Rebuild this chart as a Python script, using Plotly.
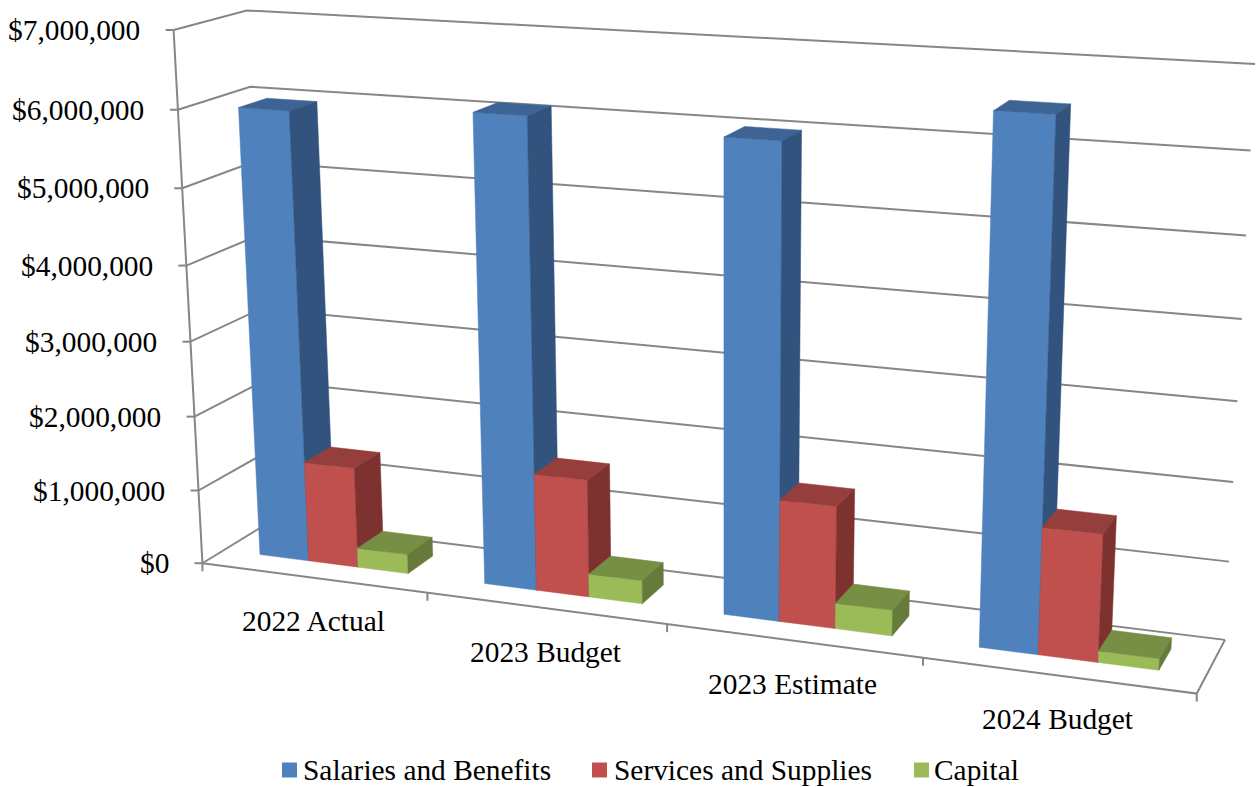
import numpy as np
import plotly.graph_objects as go

# Chart data
CATEGORIES = ["2022 Actual", "2023 Budget", "2023 Estimate", "2024 Budget"]
SERIES_NAMES = ["Salaries and Benefits", "Services and Supplies", "Capital"]
SALARIES = [5965000, 6100000, 6000000, 6510000]
SERVICES = [1350000, 1545000, 1570000, 1600000]
CAPITAL = [260000, 305000, 330000, 145000]
Y_TICKS = [0, 1000000, 2000000, 3000000, 4000000, 5000000, 6000000, 7000000]

# Face colours per series: front, top, side
SHADES = [
    ("#4F81BD", "#3D6494", "#32537D"),
    ("#C0504D", "#963E3C", "#7E3230"),
    ("#9BBB59", "#778F44", "#657A3B"),
]
GRID = "#868686"
FONT = "Liberation Serif"
FONT_SIZE = 29.4

# Oblique view: known box corners (category, depth, $M) and their page position
VIEW_ANCHORS = [
    ((0, 0, 0), (202.3, 563.3)), ((0, 0, 1), (199.0, 490.0)),
    ((0, 0, 6), (178.3, 109.3)), ((0, 0, 7), (173.3, 30.0)),
    ((0, 1, 7), (247.3, 10.7)), ((0, 1, 6), (249.3, 86.7)),
    ((4, 1, 7), (1255.0, 64.0)),
    ((4, 1, 6), (1250.7, 150.3)), ((4, 1, 5), (1246.0, 235.7)),
    ((4, 1, 1), (1229.3, 561.7)), ((4, 1, 0), (1225.0, 639.3)),
    ((4, 0, 0), (1196.7, 693.3)), ((1, 0, 0), (427.3, 593.3)),
    ((3, 0, 0), (922.7, 658.3)),
]


def solve_view(anchors):
    rows = []
    for (x, y, z), (u, v) in anchors:
        p = [x, y, z, 1.0]
        u, v = u / 1000.0, v / 1000.0
        rows.append(p + [0, 0, 0, 0] + [-u * c for c in p])
        rows.append([0, 0, 0, 0] + p + [-v * c for c in p])
    return np.linalg.svd(np.array(rows))[2][-1].reshape(3, 4)


VIEW = solve_view(VIEW_ANCHORS)


def project(x, y, value):
    h = VIEW @ np.array([x, y, value / 1e6, 1.0])
    return 1000.0 * h[0] / h[2], 1000.0 * h[1] / h[2]


# Bar footprint within a category slot and within the floor depth
BAR_START = 0.165
BAR_WIDTH = 0.222
DEPTH_FRONT = 0.31
DEPTH_BACK = 0.71


def polygon(corners):
    pts = [project(*c) for c in corners] + [project(*corners[0])]
    return [p[0] for p in pts], [p[1] for p in pts]


def bar_faces(cat, slot, value):
    x0 = cat + BAR_START + slot * BAR_WIDTH
    x1 = x0 + BAR_WIDTH
    y0, y1 = DEPTH_FRONT, DEPTH_BACK
    return (
        polygon([(x0, y0, 0), (x1, y0, 0), (x1, y0, value), (x0, y0, value)]),
        polygon([(x0, y0, value), (x1, y0, value), (x1, y1, value), (x0, y1, value)]),
        polygon([(x1, y0, 0), (x1, y1, 0), (x1, y1, value), (x1, y0, value)]),
    )


fig = go.Figure()


def add_line(points, width=2.0):
    xs = [p[0] for p in points]
    ys = [p[1] for p in points]
    fig.add_trace(go.Scatter(x=xs, y=ys, mode="lines", showlegend=False, hoverinfo="skip",
                             line=dict(color=GRID, width=width)))


# Gridlines run along the left wall and then the back wall
n_cat = len(CATEGORIES)
for tick in Y_TICKS:
    add_line([project(0, 0, tick), project(0, 1, tick), project(n_cat, 1, tick)])

# Value axis, floor edges and tick marks
add_line([project(0, 0, Y_TICKS[0]), project(0, 0, Y_TICKS[-1])])
add_line([project(0, 0, 0), project(n_cat, 0, 0), project(n_cat, 1, 0)])
for tick in Y_TICKS:
    px, py = project(0, 0, tick)
    add_line([(px - 8, py), (px, py)])
for cat in range(n_cat + 1):
    px, py = project(cat, 0, 0)
    add_line([(px, py), (px, py + 8)])

# Columns, series by series so each one overlaps the side of its left neighbour
for slot, (name, values) in enumerate(zip(SERIES_NAMES, [SALARIES, SERVICES, CAPITAL])):
    for face, shade in enumerate(SHADES[slot]):
        xs, ys = [], []
        for cat, value in enumerate(values):
            fx, fy = bar_faces(cat, slot, value)[face]
            xs += fx + [None]
            ys += fy + [None]
        fig.add_trace(go.Scatter(x=xs, y=ys, mode="lines", fill="toself", fillcolor=shade,
                                 line=dict(color=shade, width=0.5), name=name,
                                 showlegend=False, hoverinfo="name"))

annotations = []


def add_text(text, x, y, anchor):
    annotations.append(dict(x=x, y=y, text=text, showarrow=False, xanchor=anchor, yanchor="middle",
                            font=dict(family=FONT, size=FONT_SIZE, color="#000000")))


for tick in Y_TICKS:
    px, py = project(0, 0, tick)
    add_text(f"${tick:,}", px - 31.5, py, "right")
for cat, label in enumerate(CATEGORIES):
    px, py = project(cat + 0.5, 0, 0)
    add_text(label, px, py + 43.5, "center")

# Legend row under the chart
LEGEND_SWATCH_X = [289.5, 599.5, 921.5]
LEGEND_TEXT_X = [301, 612, 932]
LEGEND_Y = 770
for i, name in enumerate(SERIES_NAMES):
    fig.add_trace(go.Scatter(x=[LEGEND_SWATCH_X[i]], y=[LEGEND_Y], mode="markers", name=name,
                             marker=dict(symbol="square", size=15, color=SHADES[i][0], line=dict(width=0)),
                             showlegend=False, hoverinfo="name"))
    add_text(name, LEGEND_TEXT_X[i], LEGEND_Y, "left")

fig.update_layout(
    width=1258, height=787, margin=dict(l=0, r=0, t=0, b=0),
    paper_bgcolor="white", plot_bgcolor="white", showlegend=False,
    xaxis=dict(range=[0, 1258], visible=False, fixedrange=True),
    yaxis=dict(range=[787, 0], visible=False, fixedrange=True),
    annotations=annotations,
)
fig.write_html("out.html", config=dict(displayModeBar=False))
